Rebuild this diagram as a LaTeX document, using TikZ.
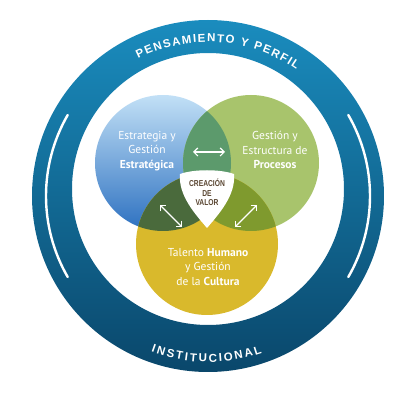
\documentclass[tikz,border=0pt]{standalone}
\usepackage{fontspec}
\setmainfont{PT Sans}
\newfontfamily\shieldfont[FakeStretch=0.78]{Liberation Sans}
\newfontfamily\ringfont{Liberation Sans}
\usetikzlibrary{decorations.text,arrows.meta,calc}
\definecolor{ringtop}{HTML}{1A8CBE}
\definecolor{ringbot}{HTML}{0A476B}
\definecolor{bluetop}{HTML}{C2E0F6}
\definecolor{bluebot}{HTML}{2C70C0}
\definecolor{greenc}{HTML}{A8C46C}
\definecolor{yellowc}{HTML}{D9B92C}
\definecolor{bgreen}{HTML}{5C9A6C}
\definecolor{byel}{HTML}{4A6A3C}
\definecolor{gyel}{HTML}{7F9A2E}
\definecolor{valor}{HTML}{5A4632}
\tikzset{
  txt/.style={text=white, align=center, font=\fontsize{11.5}{14.5}\selectfont},
  dbl/.style={white, line width=1.2pt, {Straight Barb[length=4pt,width=8pt]}-{Straight Barb[length=4pt,width=8pt]}},
  slit/.style={white, line width=2.4pt, line cap=round}
}
\begin{document}
\begin{tikzpicture}[x=1pt,y=1pt]
\useasboundingbox (0,0) rectangle (400,400);
\coordinate (oc) at (208,204);
\coordinate (ic) at (208,211);
% ring
\shade[top color=ringtop,bottom color=ringbot,even odd rule] (oc) circle[radius=176] (ic) circle[radius=136];
\draw[slit] ($(oc)+(150:162)$) arc[start angle=150,end angle=210,radius=162];
\draw[slit] ($(oc)+(-30:162)$) arc[start angle=-30,end angle=30,radius=162];
% ring texts
\path[decorate,decoration={text along path,text align=fit to path,
  text={|\ringfont\fontsize{11.5}{11.5}\selectfont\bfseries\color{white}|PENSAMIENTO Y PERFIL}}]
  ($(oc)+(117:154)$) arc[start angle=117,end angle=55,radius=154];
\path[decorate,decoration={text along path,text align=fit to path,
  text={|\ringfont\fontsize{11.5}{11.5}\selectfont\bfseries\color{white}|INSTITUCIONAL}}]
  ($(oc)+(250:166)$) arc[start angle=250,end angle=289,radius=166];
% circles
\coordinate (B) at (163,237);
\coordinate (G) at (251,237);
\coordinate (Y) at (207,156);
\shade[top color=bluetop,bottom color=bluebot] (B) circle[radius=68];
\fill[greenc] (G) circle[radius=68];
\fill[yellowc] (Y) circle[radius=71];
\begin{scope}
  \clip (B) circle[radius=68];
  \fill[bgreen] (G) circle[radius=68];
  \fill[byel] (Y) circle[radius=71];
\end{scope}
\begin{scope}
  \clip (G) circle[radius=68];
  \fill[gyel] (Y) circle[radius=71];
\end{scope}
% shield
\fill[white] (180,226) .. controls (178,205) and (195,186) .. (207,172)
  .. controls (219,186) and (236,205) .. (234,226)
  .. controls (220,231) and (194,231) .. cycle;
\node[text=valor, align=center, font=\shieldfont\bfseries\fontsize{8.6}{9.6}\selectfont] (valor) at (207,207.5) {CREACIÓN\\DE\\VALOR};
% arrows
\coordinate (a1s) at (193,248);
\coordinate (a1e) at (225,248);
\coordinate (a2s) at (160,195);
\coordinate (a2e) at (182,173);
\coordinate (a3s) at (257,195);
\coordinate (a3e) at (235,173);
\draw[dbl] (a1s) -- (a1e);
\draw[dbl] (a2s) -- (a2e);
\draw[dbl] (a3s) -- (a3e);
% texts
\node[txt] (tb) at (147,249) {Estrategia y\\Gestión\\\textbf{Estratégica}};
\node[txt] (tg) at (275,250) {Gestión y\\Estructura de\\\textbf{Procesos}};
\node[txt] (ty) at (208,133) {Talento \textbf{Humano}\\y Gestión\\de la \textbf{Cultura}};
\end{tikzpicture}
\end{document}
